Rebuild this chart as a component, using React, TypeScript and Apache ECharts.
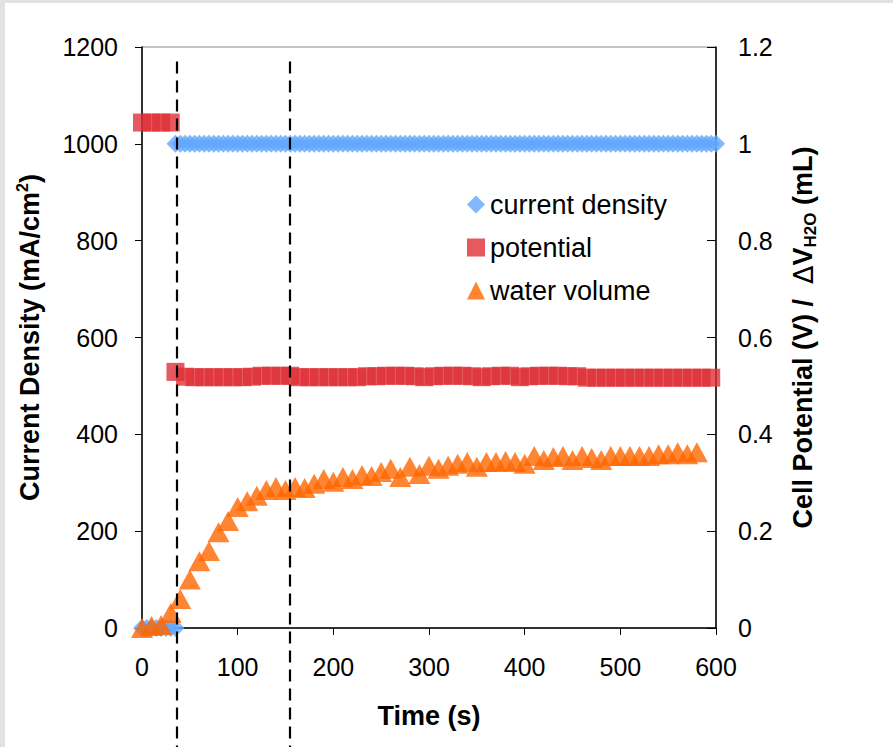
import React, { useEffect, useRef } from "react";
import * as echarts from "echarts";

// ---- data ----
const xTicks = [0, 100, 200, 300, 400, 500, 600];
const seriesNames = ["current density", "potential", "water volume"];

const cdTime = [
  0, 5, 10, 15, 20, 25, 30, 35, 35, 40, 45, 50, 55, 60, 65, 70, 75, 80, 85, 90, 95, 100,
  105, 110, 115, 120, 125, 130, 135, 140, 145, 150, 155, 160, 165, 170, 175, 180, 185, 190, 195, 200,
  205, 210, 215, 220, 225, 230, 235, 240, 245, 250, 255, 260, 265, 270, 275, 280, 285, 290, 295, 300,
  305, 310, 315, 320, 325, 330, 335, 340, 345, 350, 355, 360, 365, 370, 375, 380, 385, 390, 395, 400,
  405, 410, 415, 420, 425, 430, 435, 440, 445, 450, 455, 460, 465, 470, 475, 480, 485, 490, 495, 500,
  505, 510, 515, 520, 525, 530, 535, 540, 545, 550, 555, 560, 565, 570, 575, 580, 585, 590, 595, 600,
];
const cdValue = [
  0, 0, 0, 0, 0, 0, 0, 0, 1000, 1000, 1000, 1000, 1000, 1000, 1000, 1000, 1000, 1000, 1000, 1000, 1000, 1000,
  1000, 1000, 1000, 1000, 1000, 1000, 1000, 1000, 1000, 1000, 1000, 1000, 1000, 1000, 1000, 1000, 1000, 1000, 1000, 1000,
  1000, 1000, 1000, 1000, 1000, 1000, 1000, 1000, 1000, 1000, 1000, 1000, 1000, 1000, 1000, 1000, 1000, 1000, 1000, 1000,
  1000, 1000, 1000, 1000, 1000, 1000, 1000, 1000, 1000, 1000, 1000, 1000, 1000, 1000, 1000, 1000, 1000, 1000, 1000, 1000,
  1000, 1000, 1000, 1000, 1000, 1000, 1000, 1000, 1000, 1000, 1000, 1000, 1000, 1000, 1000, 1000, 1000, 1000, 1000, 1000,
  1000, 1000, 1000, 1000, 1000, 1000, 1000, 1000, 1000, 1000, 1000, 1000, 1000, 1000, 1000, 1000, 1000, 1000, 1000, 1000,
];

const potTime = [
  0, 10, 20, 30, 35, 45, 55, 65, 75, 85, 95, 105, 115, 125, 135, 145, 155, 165, 175, 185, 195,
  205, 215, 225, 235, 245, 255, 265, 275, 285, 295, 305, 315, 325, 335, 345, 355, 365, 375, 385, 395,
  405, 415, 425, 435, 445, 455, 465, 475, 485, 495, 505, 515, 525, 535, 545, 555, 565, 575, 585, 595,
];
const potValue = [
  1.044, 1.044, 1.044, 1.044, 0.529, 0.519, 0.518, 0.518, 0.518, 0.518, 0.518, 0.518, 0.519, 0.521, 0.521, 0.521, 0.521, 0.518, 0.518, 0.518, 0.518,
  0.518, 0.518, 0.518, 0.520, 0.520, 0.521, 0.521, 0.521, 0.520, 0.518, 0.520, 0.521, 0.521, 0.521, 0.520, 0.518, 0.520, 0.521, 0.521, 0.518,
  0.520, 0.521, 0.521, 0.521, 0.520, 0.520, 0.517, 0.517, 0.517, 0.517, 0.517, 0.517, 0.517, 0.517, 0.517, 0.517, 0.517, 0.517, 0.517, 0.517,
];

const waterTime = [
  0, 10, 20, 30, 40, 50, 60, 70, 80, 90, 100, 110, 120, 130, 140, 150, 160, 170, 180, 190,
  200, 210, 220, 230, 240, 250, 260, 270, 280, 290, 300, 310, 320, 330, 340, 350, 360, 370, 380, 390,
  400, 410, 420, 430, 440, 450, 460, 470, 480, 490, 500, 510, 520, 530, 540, 550, 560, 570, 580,
];
const waterValue = [
  0, 0.004, 0.006, 0.031, 0.06, 0.1, 0.138, 0.159, 0.198, 0.221, 0.25, 0.262, 0.273, 0.285, 0.291, 0.285, 0.291, 0.289, 0.298, 0.308,
  0.302, 0.312, 0.308, 0.316, 0.314, 0.322, 0.329, 0.312, 0.333, 0.318, 0.335, 0.329, 0.335, 0.339, 0.343, 0.333, 0.343, 0.343, 0.345, 0.343,
  0.339, 0.355, 0.347, 0.353, 0.355, 0.347, 0.355, 0.351, 0.347, 0.355, 0.355, 0.355, 0.355, 0.355, 0.359, 0.359, 0.363, 0.359, 0.363,
];

const markerTimes = [36.5, 155];

const FONT = "'Liberation Sans', Arial, sans-serif";

export default function App() {
  const ref = useRef<HTMLDivElement>(null);

  useEffect(() => {
    document.body.style.margin = "0";
    if (!ref.current) return;
    const chart = echarts.init(ref.current, null, { renderer: "svg" });

    const pairs = (ts: number[], vs: number[]) => ts.map((t, i) => [t, vs[i]]);
    const plain = (v: number) => String(v);

    chart.setOption({
      animation: false,
      backgroundColor: "#ffffff",
      textStyle: { fontFamily: FONT },
      grid: {
        left: 137,
        right: 177,
        top: 44,
        bottom: 119,
        show: true,
        borderColor: "#8a8a8a",
        borderWidth: 1,
      },
      legend: {
        orient: "vertical",
        left: 457,
        top: 183,
        itemGap: 16,
        itemWidth: 18,
        itemHeight: 18,
        textStyle: { fontSize: 27, color: "#000", fontFamily: FONT },
        data: [
          { name: seriesNames[0], icon: "diamond" },
          { name: seriesNames[1], icon: "rect" },
          { name: seriesNames[2], icon: "triangle" },
        ],
      },
      xAxis: {
        type: "value",
        min: xTicks[0],
        max: xTicks[xTicks.length - 1],
        interval: 100,
        name: "Time (s)",
        nameLocation: "middle",
        nameGap: 74,
        nameTextStyle: { fontSize: 27, fontWeight: "bold", color: "#000", fontFamily: FONT },
        axisLine: { onZero: false, lineStyle: { color: "#000", width: 1.5 } },
        axisTick: { show: true, inside: false, length: 7, lineStyle: { color: "#000" } },
        axisLabel: { fontSize: 25, color: "#000", margin: 26, fontFamily: FONT, formatter: plain },
        splitLine: { show: false },
      },
      yAxis: [
        {
          type: "value",
          position: "left",
          min: 0,
          max: 1200,
          interval: 200,
          name: "{a|Current Density (mA/cm}{sup|2}{a|)}",
          nameLocation: "middle",
          nameRotate: 90,
          nameGap: 96,
          nameTextStyle: {
            rich: {
              a: { fontSize: 27, fontWeight: "bold", color: "#000", fontFamily: FONT, lineHeight: 32 },
              sup: { fontSize: 16, fontWeight: "bold", color: "#000", fontFamily: FONT, lineHeight: 16, verticalAlign: "top" },
            },
          },
          axisLine: { show: true, lineStyle: { color: "#000", width: 1.5 } },
          axisTick: { show: true, inside: false, length: 7, lineStyle: { color: "#000" } },
          axisLabel: { fontSize: 25, color: "#000", margin: 24, fontFamily: FONT, formatter: plain },
          splitLine: { show: false },
        },
        {
          type: "value",
          position: "right",
          min: 0,
          max: 1.2,
          interval: 0.2,
          name: "{a|Cell Potential (V) /  }{d|Δ}{a|V}{sub|H2O}{a| (mL)}",
          nameLocation: "middle",
          nameRotate: 90,
          nameGap: 71,
          nameTextStyle: {
            rich: {
              a: { fontSize: 27, fontWeight: "bold", color: "#000", fontFamily: FONT, lineHeight: 32 },
              d: { fontSize: 27, fontWeight: "normal", color: "#000", fontFamily: "'DejaVu Sans', sans-serif", lineHeight: 32 },
              sub: { fontSize: 17, fontWeight: "bold", color: "#000", fontFamily: FONT, lineHeight: 17, verticalAlign: "bottom" },
            },
          },
          axisLine: { show: true, lineStyle: { color: "#000", width: 1.5 } },
          axisTick: { show: true, inside: true, length: 9, lineStyle: { color: "#000" } },
          axisLabel: { fontSize: 25, color: "#000", margin: 22, fontFamily: FONT },
          splitLine: { show: false },
        },
      ],
      series: [
        {
          name: seriesNames[0],
          type: "scatter",
          symbol: "diamond",
          symbolSize: 18,
          clip: false,
          itemStyle: { color: "#63a8fc" },
          data: pairs(cdTime, cdValue),
          z: 2,
        },
        {
          name: seriesNames[1],
          type: "scatter",
          symbol: "rect",
          symbolSize: 18,
          yAxisIndex: 1,
          clip: false,
          itemStyle: { color: "#de2f37" },
          data: pairs(potTime, potValue),
          z: 3,
        },
        {
          name: seriesNames[2],
          type: "scatter",
          symbol: "triangle",
          symbolSize: [22, 20],
          yAxisIndex: 1,
          clip: false,
          itemStyle: { color: "#ff6600" },
          data: pairs(waterTime, waterValue),
          z: 4,
        },
      ],
    });

    const h = chart.getHeight();
    const topY = chart.convertToPixel({ yAxisIndex: 0 }, 1170) as number;
    chart.setOption({
      graphic: markerTimes.map((t) => {
        const x = Math.round(chart.convertToPixel({ xAxisIndex: 0 }, t) as number);
        return {
          type: "line",
          z: 100,
          silent: true,
          shape: { x1: x, y1: topY, x2: x, y2: h },
          style: { stroke: "#000", lineWidth: 2.2, lineDash: [12, 7] },
        };
      }),
    });

    return () => chart.dispose();
  }, []);

  return (
    <div style={{ position: "relative", width: 893, height: 747, background: "#e2e2e2", overflow: "hidden" }}>
      <div
        ref={ref}
        style={{ position: "absolute", left: 5, top: 3, width: 888, height: 744, background: "#ffffff" }}
      />
    </div>
  );
}
